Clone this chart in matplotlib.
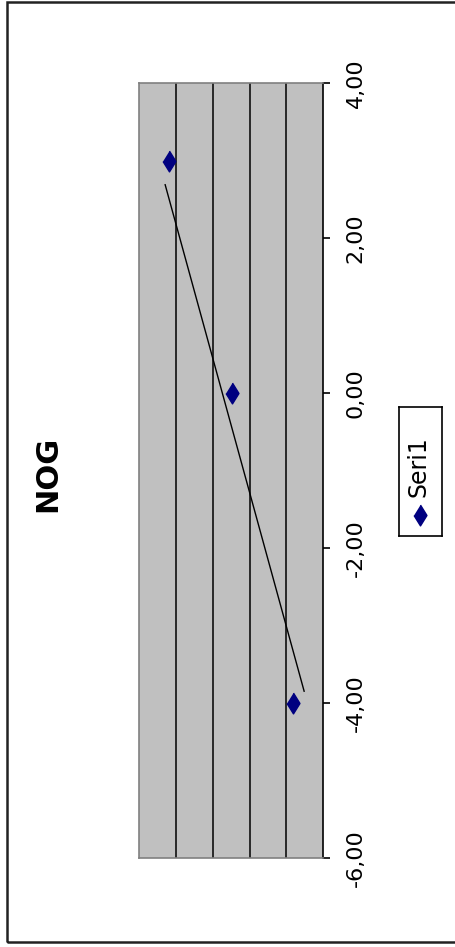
import matplotlib
matplotlib.use("Agg")
import matplotlib.pyplot as plt
from matplotlib.patches import Rectangle
from matplotlib.ticker import FuncFormatter

# data (chart is printed turned 90 degrees, x axis runs bottom -> top)
series_name = "Seri1"
title = "NOG"
seri_x = [3.0, 0.0, -4.0]
seri_y = [4.18, 2.49, 0.81]
trend_x = [-3.85, 2.69]
trend_y = [0.52, 4.29]
x_ticks = [-6, -4, -2, 0, 2, 4]
y_grid = [1, 2, 3, 4]

W, H = 456, 947
fig = plt.figure(figsize=(W / 100, H / 100), dpi=100)
fig.patch.set_facecolor("white")

# outer frame
fig.add_artist(Rectangle((6.7 / W, 1 - 941.5 / H), 1.2, (941.5 - 2.2) / H,
                         transform=fig.transFigure, fill=False, lw=1.8, ec="#222222"))

# plot area (px: left 139, right 323.3, top 83.3, bottom 857.7)
ax = fig.add_axes([139 / W, 1 - 857.7 / H, (323.3 - 139) / W, (857.7 - 83.3) / H])
ax.set_facecolor("#c0c0c0")

diamond = [(0, 1), (0.62, 0), (0, -1), (-0.62, 0)]
ax.plot(trend_y, trend_x, color="black", lw=1.0, zorder=3)
ax.plot(seri_y, seri_x, ls="none", marker=diamond, ms=15, color="#000080", zorder=4)

ax.set_xlim(5, 0)
ax.set_ylim(-6, 4)
ax.set_xticks(y_grid)
ax.xaxis.grid(True, color="black", lw=1.1)
ax.set_axisbelow(True)
ax.tick_params(axis="x", length=0, labelbottom=False)

ax.set_yticks(x_ticks)
ax.yaxis.tick_right()
ax.yaxis.set_major_formatter(FuncFormatter(lambda v, p: ("%.2f" % v).replace(".", ",")))
ax.tick_params(axis="y", direction="out", length=5, width=1.2, color="black", pad=11,
               labelsize=16, labelrotation=90)
for lab in ax.get_yticklabels():
    lab.set_va("center")

for s in ["left", "top", "bottom"]:
    ax.spines[s].set_color("#808080")
    ax.spines[s].set_linewidth(1.2)
ax.spines["right"].set_color("black")
ax.spines["right"].set_linewidth(1.2)

# title
fig.text(48 / W, 1 - 474 / H, title, rotation=90, ha="center", va="center",
         fontsize=22, fontweight="bold")

# legend box, drawn turned like the rest
lax = fig.add_axes([399 / W, 1 - 536 / H, (441.7 - 399) / W, (536 - 406.7) / H])
lax.set_xlim(0, 1)
lax.set_ylim(0, 1)
lax.set_xticks([])
lax.set_yticks([])
for s in lax.spines.values():
    s.set_color("black")
    s.set_linewidth(1.2)
lax.plot([0.49], [0.16], ls="none", marker=diamond, ms=15, color="#000080")
lax.text(0.46, 0.54, series_name, rotation=90, ha="center", va="center", fontsize=17)

fig.savefig("out.png", dpi=100)
